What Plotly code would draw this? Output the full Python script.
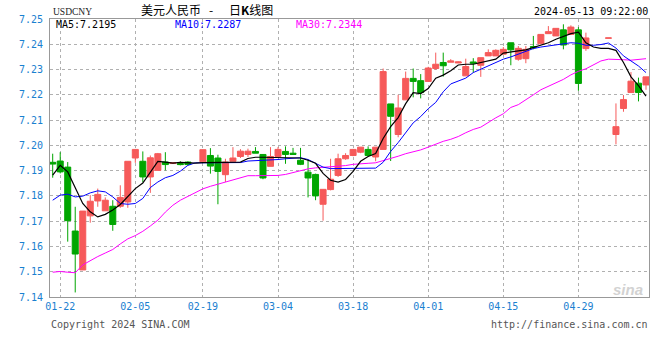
import plotly.graph_objects as go

# ---------------- data ----------------
dates = [
    "01-19",
    "01-22", "01-23", "01-24", "01-25", "01-26",
    "01-29", "01-30", "01-31", "02-01", "02-02",
    "02-05", "02-06", "02-07", "02-08", "02-09", "02-13", "02-14", "02-15", "02-16",
    "02-19", "02-20", "02-21", "02-22", "02-23", "02-26", "02-27", "02-28", "02-29", "03-01",
    "03-04", "03-05", "03-06", "03-07", "03-08", "03-11", "03-12", "03-13", "03-14", "03-15",
    "03-18", "03-19", "03-20", "03-21", "03-22", "03-25", "03-26", "03-27", "03-28", "03-29",
    "04-01", "04-02", "04-03", "04-04", "04-05", "04-08", "04-09", "04-10", "04-11", "04-12",
    "04-15", "04-16", "04-17", "04-18", "04-19", "04-22", "04-23", "04-24", "04-25", "04-26",
    "04-29", "04-30", "05-01", "05-02", "05-03", "05-06", "05-07", "05-08", "05-09", "05-10",
]

open_ = [7.1933, 7.1938, 7.1914, 7.1661, 7.1507, 7.1721, 7.1780, 7.1741, 7.1759, 7.1759,
         7.1776, 7.1950, 7.1937, 7.1875, 7.1901, 7.1934, 7.1928, 7.1928, 7.1934, None,
         7.1935, 7.1960, 7.1950, 7.1884, 7.1937, 7.1956, 7.1964, 7.1976, 7.1964, 7.1917,
         7.1956, 7.1976, 7.1969, 7.1941, 7.1894, 7.1885, 7.1767, 7.1825, 7.1881, 7.1947,
         7.1960, 7.1973, 7.1984, 7.1954, 7.1984, 7.2164, 7.2043, 7.2180, 7.2265, 7.2256,
         7.2253, 7.2304, 7.2328, 7.2329, 7.2326, 7.2275, 7.2330, 7.2317, 7.2354, 7.2354,
         7.2361, 7.2406, 7.2341, 7.2343, 7.2391, 7.2402, 7.2442, 7.2433, 7.2457, 7.2439,
         7.2457, 7.2383, None, None, 7.2424, 7.2043, 7.2146, 7.2209, 7.2246, 7.2239]
high = [7.1967, 7.1973, 7.1934, 7.1757, 7.1740, 7.1803, 7.1829, 7.1794, 7.1783, 7.1842,
        7.1937, 7.1984, 7.1976, 7.1960, 7.1970, 7.1973, 7.1933, 7.1937, 7.1937, None,
        7.1983, 7.1989, 7.1963, 7.1947, 7.1993, 7.1985, 7.1987, 7.1993, 7.1964, 7.1993,
        7.1993, 7.1996, 7.1990, 7.1990, 7.1943, 7.1888, 7.1826, 7.1947, 7.1967, 7.1969,
        7.1986, 7.1993, 7.1996, 7.1993, 7.2304, 7.2164, 7.2200, 7.2292, 7.2304, 7.2282,
        7.2311, 7.2367, 7.2367, 7.2341, 7.2332, 7.2343, 7.2345, 7.2347, 7.2380, 7.2380,
        7.2389, 7.2406, 7.2393, 7.2393, 7.2433, 7.2439, 7.2472, 7.2463, 7.2479, 7.2475,
        7.2468, 7.2446, None, None, 7.2425, 7.2166, 7.2199, 7.2290, 7.2268, 7.2271]
low = [7.1872, 7.1889, 7.1619, 7.1418, 7.1507, 7.1694, 7.1757, 7.1741, 7.1662, 7.1753,
       7.1753, 7.1931, 7.1855, 7.1812, 7.1901, 7.1901, 7.1928, 7.1921, 7.1921, None,
       7.1935, 7.1888, 7.1767, 7.1855, 7.1937, 7.1950, 7.1954, 7.1969, 7.1866, 7.1917,
       7.1956, 7.1927, 7.1964, 7.1922, 7.1794, 7.1783, 7.1702, 7.1822, 7.1875, 7.1943,
       7.1957, 7.1969, 7.1957, 7.1937, 7.1984, 7.1938, 7.2032, 7.2180, 7.2190, 7.2186,
       7.2253, 7.2299, 7.2272, 7.2329, 7.2326, 7.2275, 7.2288, 7.2271, 7.2354, 7.2354,
       7.2361, 7.2317, 7.2335, 7.2325, 7.2380, 7.2402, 7.2442, 7.2433, 7.2380, 7.2439,
       7.2216, 7.2374, None, None, 7.2424, 7.2004, 7.2133, 7.2209, 7.2174, 7.2220]
close = [7.1926, 7.1895, 7.1702, 7.1570, 7.1740, 7.1779, 7.1806, 7.1783, 7.1687, 7.1794,
         7.1937, 7.1984, 7.1875, 7.1951, 7.1967, 7.1924, 7.1931, 7.1924, 7.1924, None,
         7.1983, 7.1918, 7.1897, 7.1934, 7.1950, 7.1977, 7.1977, 7.1969, 7.1871, 7.1956,
         7.1984, 7.1964, 7.1964, 7.1925, 7.1871, 7.1800, 7.1826, 7.1866, 7.1947, 7.1960,
         7.1984, 7.1993, 7.1960, 7.1993, 7.2292, 7.2115, 7.2148, 7.2265, 7.2253, 7.2209,
         7.2306, 7.2321, 7.2315, 7.2334, 7.2330, 7.2312, 7.2325, 7.2347, 7.2367, 7.2376,
         7.2380, 7.2378, 7.2384, 7.2380, 7.2387, 7.2439, 7.2450, 7.2463, 7.2397, 7.2468,
         7.2245, 7.2425, None, None, 7.2425, 7.2074, 7.2181, 7.2254, 7.2209, 7.2271]

ma5 = [7.1882, 7.1921, 7.1895, 7.1835, 7.1770, 7.1737, 7.1717, 7.1727, 7.1744, 7.1766,
       7.1796, 7.1829, 7.1851, 7.1895, 7.1937, 7.1934, 7.1930, 7.1933, 7.1930, 7.1930,
       7.1932, 7.1932, 7.1932, 7.1932, 7.1932, 7.1934, 7.1948, 7.1953, 7.1953, 7.1952,
       7.1951, 7.1951, 7.1951, 7.1950, 7.1941, 7.1929, 7.1889, 7.1862, 7.1855, 7.1865,
       7.1897, 7.1937, 7.1956, 7.1968, 7.2027, 7.2074, 7.2110, 7.2165, 7.2209, 7.2205,
       7.2225, 7.2266, 7.2278, 7.2295, 7.2318, 7.2321, 7.2321, 7.2328, 7.2334, 7.2341,
       7.2365, 7.2371, 7.2374, 7.2378, 7.2387, 7.2396, 7.2406, 7.2420, 7.2430, 7.2442,
       7.2448, 7.2406, 7.2389, 7.2384, 7.2384, 7.2376, 7.2328, 7.2271, 7.2236, 7.2195]
ma10 = [7.1783, 7.1803, 7.1807, 7.1796, 7.1799, 7.1812, 7.1820, 7.1816, 7.1796, 7.1770,
        7.1767, 7.1770, 7.1790, 7.1833, 7.1855, 7.1872, 7.1881, 7.1898, 7.1921, 7.1931,
        7.1931, 7.1931, 7.1931, 7.1931, 7.1931, 7.1932, 7.1938, 7.1939, 7.1941, 7.1943,
        7.1944, 7.1947, 7.1950, 7.1951, 7.1944, 7.1929, 7.1914, 7.1908, 7.1908, 7.1908,
        7.1908, 7.1908, 7.1908, 7.1910, 7.1933, 7.1976, 7.2011, 7.2051, 7.2089, 7.2114,
        7.2145, 7.2170, 7.2212, 7.2243, 7.2253, 7.2266, 7.2288, 7.2302, 7.2315, 7.2328,
        7.2341, 7.2350, 7.2362, 7.2374, 7.2383, 7.2389, 7.2393, 7.2397, 7.2401, 7.2406,
        7.2404, 7.2396, 7.2396, 7.2399, 7.2405, 7.2385, 7.2354, 7.2334, 7.2314, 7.2288]
ma30 = [7.1498, 7.1501, 7.1498, 7.1496, 7.1527, 7.1544, 7.1560, 7.1574, 7.1588, 7.1610,
        7.1630, 7.1643, 7.1660, 7.1681, 7.1704, 7.1736, 7.1763, 7.1783, 7.1799, 7.1815,
        7.1828, 7.1838, 7.1846, 7.1854, 7.1863, 7.1872, 7.1880, 7.1880, 7.1880, 7.1880,
        7.1881, 7.1885, 7.1893, 7.1900, 7.1907, 7.1911, 7.1913, 7.1914, 7.1916, 7.1920,
        7.1925, 7.1928, 7.1929, 7.1931, 7.1939, 7.1948, 7.1957, 7.1967, 7.1974, 7.1982,
        7.1993, 7.2006, 7.2016, 7.2024, 7.2035, 7.2050, 7.2063, 7.2072, 7.2091, 7.2109,
        7.2125, 7.2150, 7.2161, 7.2179, 7.2200, 7.2220, 7.2234, 7.2249, 7.2261, 7.2279,
        7.2293, 7.2303, 7.2318, 7.2334, 7.2341, 7.2341, 7.2339, 7.2337, 7.2339, 7.2343]

x_labels = ["01-22", "02-05", "02-19", "03-04", "03-18", "04-01", "04-15", "04-29"]
y_ticks = [7.14, 7.15, 7.16, 7.17, 7.18, 7.19, 7.20, 7.21, 7.22, 7.23, 7.24, 7.25]

title_parts = ["美元人民币", "-", "日<b>K</b>线图"]
symbol_text = "USDCNY"
time_text = "2024-05-13 09:22:00"
ma_labels = ["MA5:7.2195", "MA10:7.2287", "MA30:7.2344"]
copyright_text = "Copyright 2024 SINA.COM"
url_text = "http://finance.sina.com.cn"

# ---------------- style ----------------
RED = "#f65a5a"
GREEN = "#00a600"
BLUE_TXT = "#1a80d0"
MONO = "DejaVu Sans Mono"
W, H = 660, 360
ML, MR, MT, MB = 50, 11, 19, 63
PW, PH = W - ML - MR, H - MT - MB


def px(x):
    return (x - ML) / PW


def py(y):
    return (H - MB - y) / PH


fig = go.Figure()
fig.add_trace(go.Candlestick(
    x=dates, open=open_, high=high, low=low, close=close,
    increasing=dict(line=dict(color=RED, width=1), fillcolor=RED),
    decreasing=dict(line=dict(color=GREEN, width=1), fillcolor=GREEN),
    whiskerwidth=0, showlegend=False, hoverinfo="skip",
))
for vals, col, w in [(ma30, "#ff00ff", 1), (ma10, "#0000ff", 1), (ma5, "#000000", 1.2)]:
    fig.add_trace(go.Scatter(x=dates, y=vals, mode="lines",
                             line=dict(color=col, width=w),
                             showlegend=False, hoverinfo="skip"))

ann = []
ann.append(dict(text=symbol_text, x=px(51), y=py(12), xanchor="left", yanchor="middle",
                font=dict(family="Liberation Serif", size=9.5, color="#222")))
# title pieces: "美元人民币  -   日K线图"
for txt, xc in zip(title_parts, [171, 211, 251]):
    ann.append(dict(text=txt, x=px(xc), y=py(9.5), xanchor="center", yanchor="middle",
                    font=dict(family="Noto Sans CJK SC", size=12, color="#000")))
ann.append(dict(text=time_text, x=px(649.5), y=py(11.5), xanchor="right", yanchor="middle",
                font=dict(family=MONO, size=10, color="#000")))
for txt, xpos, col in zip(ma_labels, [54, 173, 294], ["#000000", "#0000ff", "#ff00ff"]):
    ann.append(dict(text=txt, x=px(xpos), y=py(24), xanchor="left", yanchor="middle",
                    font=dict(family=MONO, size=10, color=col)))
ann.append(dict(text=copyright_text, x=px(48.5), y=py(324), xanchor="left", yanchor="middle",
                font=dict(family=MONO, size=10, color="#555")))
ann.append(dict(text=url_text, x=px(650), y=py(324), xanchor="right", yanchor="middle",
                font=dict(family=MONO, size=10, color="#555")))
ann.append(dict(text="<b><i>sina</i></b>", x=px(628), y=py(289), xanchor="center", yanchor="middle",
                font=dict(family="Liberation Sans", size=15, color="#d2d2d2")))
for a in ann:
    a.update(xref="paper", yref="paper", showarrow=False)

fig.update_layout(
    width=W, height=H,
    margin=dict(l=ML, r=MR, t=MT, b=MB, pad=0),
    paper_bgcolor="white", plot_bgcolor="white",
    boxgap=0.2, boxgroupgap=0,
    showlegend=False,
    annotations=ann,
    xaxis=dict(
        type="category", categoryorder="array", categoryarray=dates,
        range=[-0.36, len(dates) - 0.6],
        tickmode="array", tickvals=x_labels, ticktext=x_labels,
        showgrid=True, gridcolor="#b0b0b0", griddash="dot", gridwidth=1,
        showline=True, mirror=True, linecolor="#999999", linewidth=1,
        ticks="", ticklen=0,
        tickfont=dict(family=MONO, size=10, color=BLUE_TXT),
        rangeslider=dict(visible=False), zeroline=False, fixedrange=True,
    ),
    yaxis=dict(
        range=[7.14, 7.25],
        tickmode="array", tickvals=y_ticks, ticktext=[f"{v:.2f}" for v in y_ticks],
        showgrid=True, gridcolor="#b0b0b0", griddash="dot", gridwidth=1,
        showline=True, mirror=True, linecolor="#999999", linewidth=1,
        ticks="outside", ticklen=4, tickcolor="rgba(0,0,0,0)",
        tickfont=dict(family=MONO, size=10, color=BLUE_TXT),
        zeroline=False, fixedrange=True,
    ),
)

fig.write_html("out.html")
